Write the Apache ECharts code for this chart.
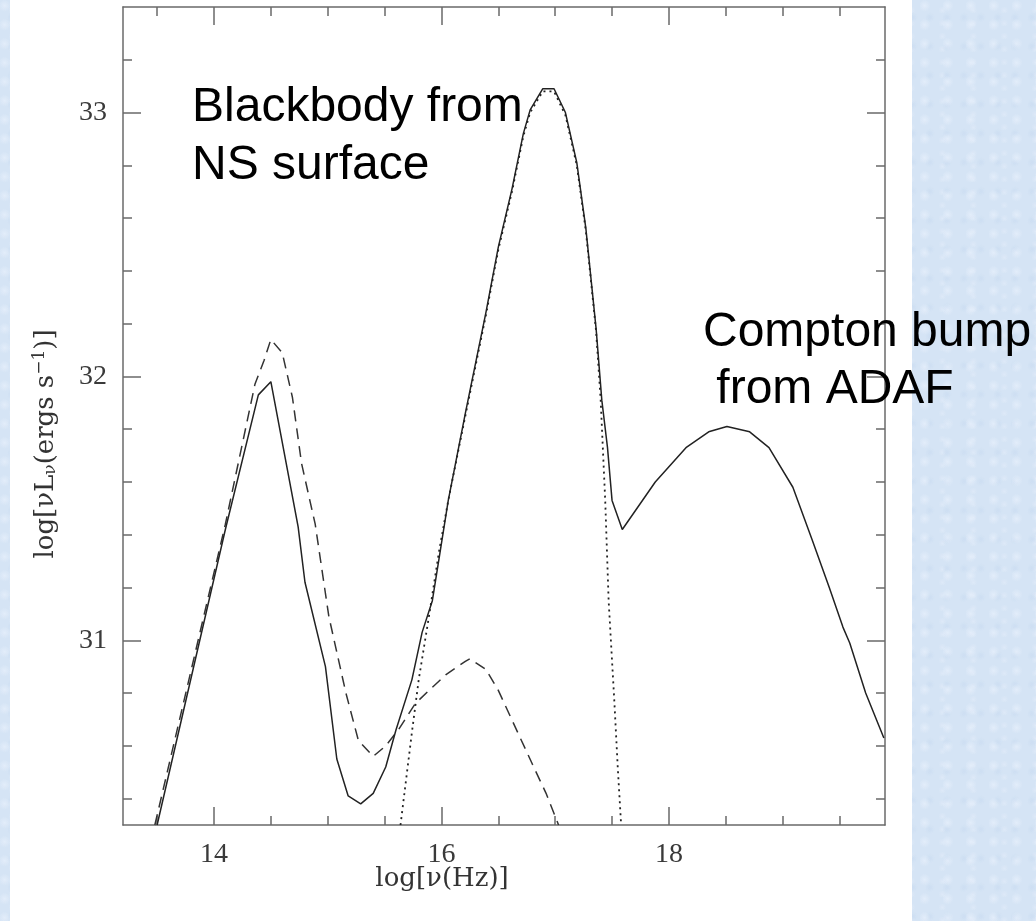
<!DOCTYPE html>
<html>
<head>
<meta charset="utf-8">
<script src="https://cdn.jsdelivr.net/npm/echarts@6/dist/echarts.min.js"></script>
<style>
html,body{margin:0;padding:0;}
body{width:1036px;height:921px;background-color:#d5e4f5;
background-image:
 radial-gradient(circle at 20% 30%, rgba(235,242,252,0.6) 0px, rgba(235,242,252,0) 6px),
 radial-gradient(circle at 70% 60%, rgba(200,218,240,0.6) 0px, rgba(200,218,240,0) 5px),
 radial-gradient(circle at 40% 80%, rgba(230,238,250,0.5) 0px, rgba(230,238,250,0) 4px);
background-size: 23px 19px, 17px 29px, 31px 13px;}
#chart{width:1036px;height:921px;}
</style>
</head>
<body>
<div id="chart"></div>
<script>
// ---- data ----
const xMin = 13.2, xMax = 19.9;
const yMin = 30.3, yMax = 33.4;
const xMajorTicks = [14, 16, 18];
const xMinorTicks = [13.5, 14.5, 15, 15.5, 16.5, 17, 17.5, 18.5, 19, 19.5];
const yMajorTicks = [31, 32, 33];
const yMinorTicks = [30.4, 30.6, 30.8, 31.2, 31.4, 31.6, 31.8, 32.2, 32.4, 32.6, 32.8, 33.2];

// total spectrum (solid)
const totalX = [13.50, 14.10, 14.39, 14.50, 14.74, 14.80, 14.98, 15.08, 15.18, 15.29, 15.40, 15.51, 15.60, 15.74, 15.83, 15.92, 15.99, 16.06, 16.21, 16.39, 16.50, 16.62, 16.72, 16.78, 16.89, 16.99, 17.09, 17.19, 17.27, 17.36, 17.41, 17.46, 17.50, 17.59, 17.88, 18.15, 18.35, 18.51, 18.71, 18.88, 19.09, 19.26, 19.41, 19.53, 19.59, 19.73, 19.89];
const totalY = [30.30, 31.42, 31.93, 31.98, 31.43, 31.22, 30.90, 30.55, 30.41, 30.38, 30.42, 30.52, 30.66, 30.85, 31.03, 31.15, 31.34, 31.53, 31.86, 32.24, 32.49, 32.71, 32.92, 33.01, 33.09, 33.09, 33.00, 32.81, 32.56, 32.18, 31.91, 31.73, 31.53, 31.42, 31.60, 31.73, 31.79, 31.81, 31.79, 31.73, 31.58, 31.38, 31.20, 31.05, 30.99, 30.80, 30.63];

// comparison model (dashed)
const dashedX = [13.48, 14.10, 14.36, 14.44, 14.50, 14.60, 14.69, 14.77, 14.89, 15.01, 15.16, 15.27, 15.40, 15.51, 15.62, 15.77, 15.89, 16.04, 16.21, 16.25, 16.39, 16.50, 16.65, 16.80, 16.92, 17.03];
const dashedY = [30.30, 31.44, 31.97, 32.06, 32.14, 32.09, 31.92, 31.67, 31.44, 31.09, 30.80, 30.62, 30.56, 30.60, 30.66, 30.76, 30.81, 30.87, 30.92, 30.93, 30.89, 30.81, 30.67, 30.53, 30.42, 30.30];

// blackbody from NS surface (dotted)
const bbX = [15.64, 15.74, 15.80, 15.89, 15.98, 16.06, 16.21, 16.39, 16.50, 16.62, 16.72, 16.78, 16.89, 16.99, 17.09, 17.19, 17.27, 17.36, 17.40, 17.44, 17.47, 17.52, 17.55, 17.58];
const bbY = [30.30, 30.65, 30.85, 31.09, 31.34, 31.53, 31.85, 32.23, 32.48, 32.70, 32.91, 33.00, 33.08, 33.08, 32.99, 32.80, 32.55, 32.17, 31.91, 31.53, 31.15, 30.77, 30.52, 30.30];

const xTitle = 'log[ν(Hz)]';
const annot1 = ['Blackbody from', 'NS surface'];
const annot2 = ['Compton bump', ' from ADAF'];

// ---- build ----
const zip = (xs, ys) => xs.map((x, i) => [x, ys[i]]);
const axisColor = '#6a6a6a';
const labelFont = { fontFamily: 'Liberation Serif', fontSize: 28, color: '#3a3a3a' };

function makeX(position, ticks, len, showLabel, showLine) {
  return {
    type: 'value', position: position, min: xMin, max: xMax,
    axisLine: { show: showLine, onZero: false, lineStyle: { color: axisColor, width: 1.5 } },
    axisTick: { show: true, inside: true, length: len, customValues: ticks, lineStyle: { color: axisColor, width: 1.5 } },
    axisLabel: Object.assign({ show: showLabel, customValues: ticks, margin: 16 }, labelFont),
    splitLine: { show: false }
  };
}
function makeY(position, ticks, len, showLabel, showLine) {
  return {
    type: 'value', position: position, min: yMin, max: yMax,
    axisLine: { show: showLine, onZero: false, lineStyle: { color: axisColor, width: 1.5 } },
    axisTick: { show: true, inside: true, length: len, customValues: ticks, lineStyle: { color: axisColor, width: 1.5 } },
    axisLabel: Object.assign({ show: showLabel, customValues: ticks, margin: 16 }, labelFont),
    splitLine: { show: false }
  };
}

const chart = echarts.init(document.getElementById('chart'), null, { renderer: 'canvas' });
const titleFont = '26px "DejaVu Serif"';
const option = {
  backgroundColor: 'transparent',
  animation: false,
  grid: { left: 123, right: 151, top: 7, bottom: 96, containLabel: false },
  xAxis: [
    makeX('bottom', xMajorTicks, 18, true, true),
    makeX('bottom', xMinorTicks, 9, false, false),
    makeX('top', xMajorTicks, 18, false, true),
    makeX('top', xMinorTicks, 9, false, false)
  ],
  yAxis: [
    makeY('left', yMajorTicks, 18, true, true),
    makeY('left', yMinorTicks, 9, false, false),
    makeY('right', yMajorTicks, 18, false, true),
    makeY('right', yMinorTicks, 9, false, false)
  ],
  graphic: [
    { type: 'rect', z: -100, silent: true, shape: { x: 10, y: 0, width: 902, height: 921 }, style: { fill: '#ffffff' } },
    { type: 'text', z: 50, x: 442, y: 879, style: { text: xTitle, font: titleFont, fill: '#333', align: 'center', verticalAlign: 'middle' } },
    { type: 'text', z: 50, x: 46, y: 444, rotation: Math.PI / 2, style: {
        text: '{n|log[νL}{s|ν}{n|(ergs s}{p|−1}{n|)]}',
        align: 'center', verticalAlign: 'middle',
        rich: {
          n: { font: titleFont, fill: '#333' },
          s: { font: '17px "DejaVu Serif"', fill: '#333', padding: [10, 0, 0, 0] },
          p: { font: '17px "DejaVu Serif"', fill: '#333', padding: [0, 0, 12, 0] }
        }
      } },
    { type: 'text', z: 50, x: 192, y: 108, style: { text: annot1[0], font: '48px "Liberation Sans"', fill: '#000', align: 'left', verticalAlign: 'middle' } },
    { type: 'text', z: 50, x: 192, y: 166, style: { text: annot1[1], font: '48px "Liberation Sans"', fill: '#000', align: 'left', verticalAlign: 'middle' } },
    { type: 'text', z: 50, x: 703, y: 333, style: { text: annot2[0], font: '48px "Liberation Sans"', fill: '#000', align: 'left', verticalAlign: 'middle' } },
    { type: 'text', z: 50, x: 703, y: 390, style: { text: annot2[1], font: '48px "Liberation Sans"', fill: '#000', align: 'left', verticalAlign: 'middle' } }
  ],
  series: [
    { name: 'Blackbody', type: 'line', xAxisIndex: 0, yAxisIndex: 0, data: zip(bbX, bbY), showSymbol: false, clip: true, z: 2,
      lineStyle: { color: '#222', width: 1.8, type: [2, 4] } },
    { name: 'Dashed', type: 'line', xAxisIndex: 0, yAxisIndex: 0, data: zip(dashedX, dashedY), showSymbol: false, clip: true, z: 3,
      lineStyle: { color: '#333', width: 1.5, type: [11, 7] } },
    { name: 'Total', type: 'line', xAxisIndex: 0, yAxisIndex: 0, data: zip(totalX, totalY), showSymbol: false, clip: true, z: 4,
      lineStyle: { color: '#222', width: 1.5, type: 'solid' } }
  ]
};
chart.setOption(option);
</script>
</body>
</html>
